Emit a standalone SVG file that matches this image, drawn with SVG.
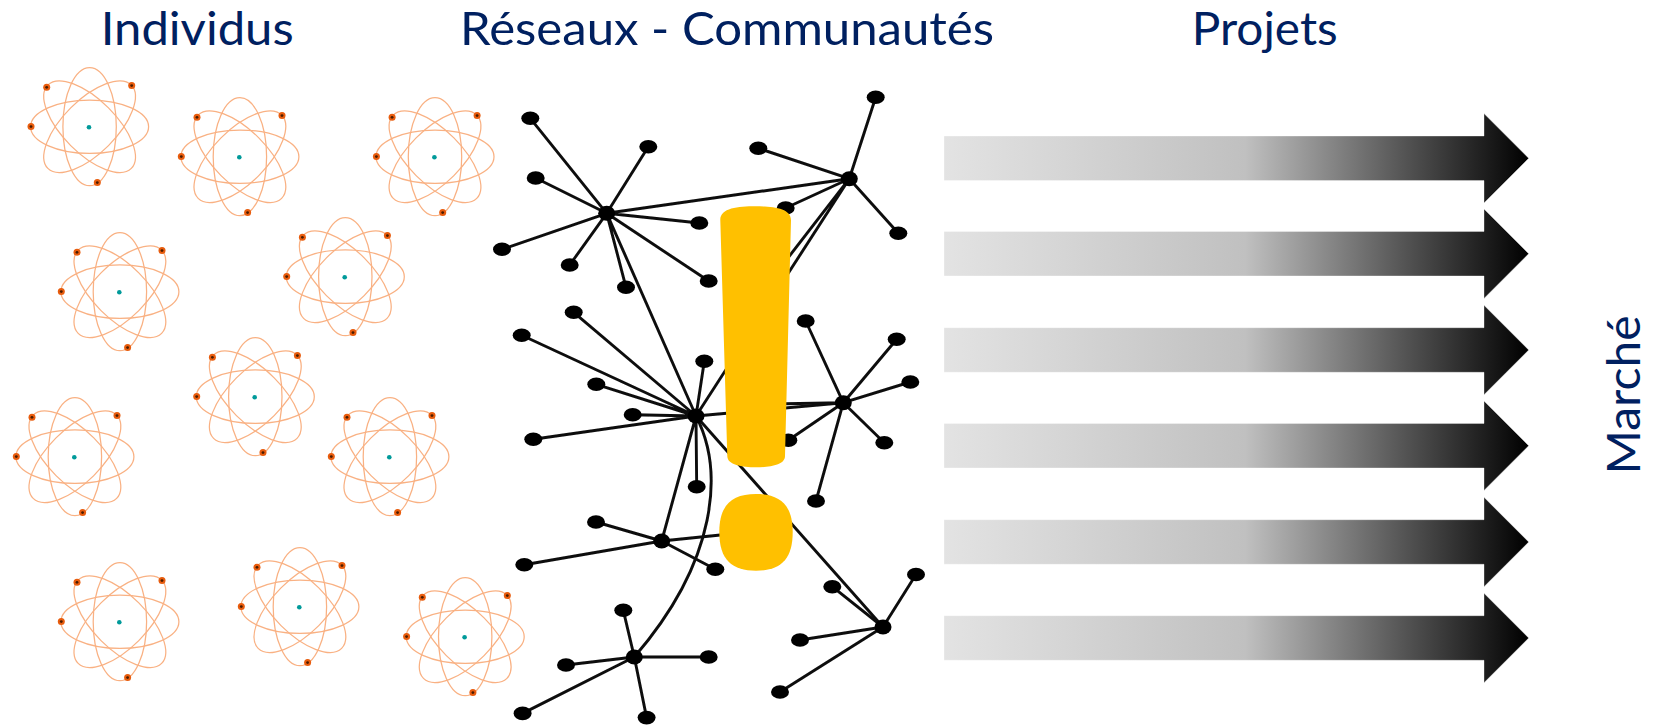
<svg xmlns="http://www.w3.org/2000/svg" xmlns:xlink="http://www.w3.org/1999/xlink" width="1661" height="728" viewBox="0 0 1661 728">
<style>
.orb{fill:none;stroke:#f9b183;stroke-width:1.25}
.e{fill:#e85c0d}.ec{fill:#4a1c00}.nuc{fill:#009a9a}
.lnk{fill:none;stroke:#0c0c0c;stroke-width:2.9;stroke-linecap:round}
.n{fill:#000}
.ttl{font-family:Lato,"Liberation Sans",sans-serif;font-size:47px;fill:#002060}
.arr{fill:url(#ag);stroke:#fff;stroke-opacity:.35;stroke-width:1}
.ex{fill:#FFC000}
</style>
<defs>
<linearGradient id="ag" gradientUnits="userSpaceOnUse" x1="944" y1="0" x2="1528.7" y2="0">
<stop offset="0" stop-color="#e3e3e3"/><stop offset=".515" stop-color="#c0c0c0"/><stop offset="1" stop-color="#000"/>
</linearGradient>
<filter id="soft" x="-5%" y="-5%" width="110%" height="110%"><feGaussianBlur stdDeviation=".6"/></filter>
<g id="atom">
<g transform="translate(.6,-.6)">
<ellipse class="orb" rx="59" ry="26.7"/>
<ellipse class="orb" rx="26.7" ry="59"/>
<ellipse class="orb" rx="59" ry="26.7" transform="rotate(45)"/>
<ellipse class="orb" rx="59" ry="26.7" transform="rotate(-45)"/>
</g>
<circle class="nuc" r="2.3"/>
<circle class="e" cx="-58" cy="-.7" r="3.5"/><circle class="ec" cx="-58" cy="-.7" r="1.4"/>
<circle class="e" cx="-42.3" cy="-40" r="3.5"/><circle class="ec" cx="-42.3" cy="-40" r="1.4"/>
<circle class="e" cx="42.7" cy="-41.7" r="3.5"/><circle class="ec" cx="42.7" cy="-41.7" r="1.4"/>
<circle class="e" cx="8.3" cy="55.3" r="3.5"/><circle class="ec" cx="8.3" cy="55.3" r="1.4"/>
</g>
<path id="arrow" class="arr" d="M944,-22.3H1484V-44.7L1528.7,0L1484,44.7V22.3H944Z"/>
</defs>

<g id="atoms">
<use id="atom1" href="#atom" x="89" y="127.3"/>
<use id="atom2" href="#atom" x="239.3" y="157.3"/>
<use id="atom3" href="#atom" x="434.4" y="157.3"/>
<use id="atom4" href="#atom" x="119.3" y="292.3"/>
<use id="atom5" href="#atom" x="344.7" y="277.3"/>
<use id="atom6" href="#atom" x="254.7" y="397.3"/>
<use id="atom7" href="#atom" x="74.3" y="457.3"/>
<use id="atom8" href="#atom" x="389.3" y="457.3"/>
<use id="atom9" href="#atom" x="119.3" y="622.3"/>
<use id="atom10" href="#atom" x="299.3" y="607.3"/>
<use id="atom11" href="#atom" x="464.6" y="637.3"/>
</g>

<g id="connectors" filter="url(#soft)">
<path class="lnk" d="M606.7,213.3L530.3,118.3M606.7,213.3L648.3,146.7M606.7,213.3L535.7,178M606.7,213.3L502,249.3M606.7,213.3L569.7,265M606.7,213.3L626,287.3M606.7,213.3L699.3,223M606.7,213.3L708.7,281M606.7,213.3L849.3,178.7M606.7,213.3L696,416"/>
<path class="lnk" d="M849.3,178.7L758.3,148.3M849.3,178.7L875.7,97.3M849.3,178.7L898.3,233.3M849.3,178.7L785.7,208M849.3,178.7L696,416M849.3,178.7L760,294"/>
<path class="lnk" d="M696,416L573.7,312.3M696,416L521.7,335.3M696,416L704.3,361.3M696,416L596.3,384.3M696,416L632.7,414.7M696,416L533.3,439.3M696,416L696.7,486.7M696,416L661.7,541M696,416L883,627M696,416L843.3,402.7"/>
<path class="lnk" d="M696,416C724,470 718,560 634.3,657"/>
<path class="lnk" d="M843.3,402.7L805.7,321M843.3,402.7L896.7,339.3M843.3,402.7L910.3,382M843.3,402.7L884.3,442.7M843.3,402.7L816,501M843.3,402.7L788.3,440.3M843.3,402.7L770,404"/>
<path class="lnk" d="M661.7,541L596,522M661.7,541L524.3,564.7M661.7,541L715.3,569.3M661.7,541L740,533"/>
<path class="lnk" d="M634.3,657L623.3,610.3M634.3,657L566,665M634.3,657L708.7,657M634.3,657L646.6,717.6M634.3,657L522.6,713.4"/>
<path class="lnk" d="M883,627L832.3,586.7M883,627L800,640M883,627L780,692M883,627L916,574.5"/>
</g>

<g id="network-nodes" filter="url(#soft)">
<g id="hubA" class="n"><ellipse cx="606.7" cy="213.3" rx="8.5" ry="7.5"/></g>
<g id="hubB" class="n"><ellipse cx="849.3" cy="178.7" rx="8.5" ry="7.5"/></g>
<g id="hubC" class="n"><ellipse cx="696" cy="416" rx="8.5" ry="7.5"/></g>
<g id="hubD" class="n"><ellipse cx="843.3" cy="402.7" rx="8.5" ry="7.5"/></g>
<g id="hubE" class="n"><ellipse cx="661.7" cy="541" rx="8.5" ry="7.5"/></g>
<g id="hubF" class="n"><ellipse cx="634.3" cy="657" rx="8.5" ry="7.5"/></g>
<g id="hubG" class="n"><ellipse cx="883" cy="627" rx="8.5" ry="7.5"/></g>
<g id="leaves" class="n">
<ellipse cx="530.3" cy="118.3" rx="9" ry="6.8"/><ellipse cx="648.3" cy="146.7" rx="9" ry="6.8"/><ellipse cx="535.7" cy="178" rx="9" ry="6.8"/><ellipse cx="502" cy="249.3" rx="9" ry="6.8"/><ellipse cx="569.7" cy="265" rx="9" ry="6.8"/><ellipse cx="626" cy="287.3" rx="9" ry="6.8"/><ellipse cx="699.3" cy="223" rx="9" ry="6.8"/><ellipse cx="708.7" cy="281" rx="9" ry="6.8"/>
<ellipse cx="758.3" cy="148.3" rx="9" ry="6.8"/><ellipse cx="875.7" cy="97.3" rx="9" ry="6.8"/><ellipse cx="898.3" cy="233.3" rx="9" ry="6.8"/><ellipse cx="785.7" cy="208" rx="9" ry="6.8"/>
<ellipse cx="573.7" cy="312.3" rx="9" ry="6.8"/><ellipse cx="521.7" cy="335.3" rx="9" ry="6.8"/><ellipse cx="704.3" cy="361.3" rx="9" ry="6.8"/><ellipse cx="596.3" cy="384.3" rx="9" ry="6.8"/><ellipse cx="632.7" cy="414.7" rx="9" ry="6.8"/><ellipse cx="533.3" cy="439.3" rx="9" ry="6.8"/><ellipse cx="696.7" cy="486.7" rx="9" ry="6.8"/>
<ellipse cx="805.7" cy="321" rx="9" ry="6.8"/><ellipse cx="896.7" cy="339.3" rx="9" ry="6.8"/><ellipse cx="910.3" cy="382" rx="9" ry="6.8"/><ellipse cx="884.3" cy="442.7" rx="9" ry="6.8"/><ellipse cx="816" cy="501" rx="9" ry="6.8"/><ellipse cx="788.3" cy="440.3" rx="9" ry="6.8"/>
<ellipse cx="596" cy="522" rx="9" ry="6.8"/><ellipse cx="524.3" cy="564.7" rx="9" ry="6.8"/><ellipse cx="715.3" cy="569.3" rx="9" ry="6.8"/>
<ellipse cx="623.3" cy="610.3" rx="9" ry="6.8"/><ellipse cx="566" cy="665" rx="9" ry="6.8"/><ellipse cx="708.7" cy="657" rx="9" ry="6.8"/><ellipse cx="646.6" cy="717.6" rx="9" ry="6.8"/><ellipse cx="522.6" cy="713.4" rx="9" ry="6.8"/>
<ellipse cx="832.3" cy="586.7" rx="9" ry="6.8"/><ellipse cx="800" cy="640" rx="9" ry="6.8"/><ellipse cx="780" cy="692" rx="9" ry="6.8"/><ellipse cx="916" cy="574.5" rx="9" ry="6.8"/>
</g>
</g>

<g id="exclamation" class="ex">
<path d="M720.3,220C720.3,208 738,206.3 755.5,206.3C773,206.3 791,208 791,220L785,456C785,465 770,467.3 756,467.3C742,467.3 727.3,465 727.3,456Z"/>
<path d="M756,494C780,494 792.7,505 792.7,532C792.7,560 780,570.7 756,570.7C732,570.7 719.3,560 719.3,532C719.3,505 732,494 756,494Z"/>
</g>

<g id="arrows">
<use id="arrow1" href="#arrow" y="158.3"/>
<use id="arrow2" href="#arrow" y="253.7"/>
<use id="arrow3" href="#arrow" y="350"/>
<use id="arrow4" href="#arrow" y="445.7"/>
<use id="arrow5" href="#arrow" y="542"/>
<use id="arrow6" href="#arrow" y="638"/>
</g>

<g id="titles">
<text class="ttl" x="100.7" y="45" textLength="193" lengthAdjust="spacingAndGlyphs">Individus</text>
<text class="ttl" x="460" y="45" textLength="534" lengthAdjust="spacingAndGlyphs">Réseaux - Communautés</text>
<text class="ttl" x="1191.7" y="45" textLength="146" lengthAdjust="spacingAndGlyphs">Projets</text>
<text class="ttl" transform="translate(1640,474.5) rotate(-90)" textLength="159" lengthAdjust="spacingAndGlyphs">Marché</text>
</g>
</svg>
